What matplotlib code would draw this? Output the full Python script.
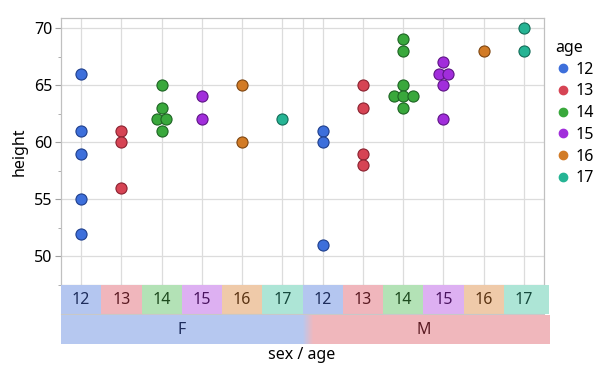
import numpy as np
import matplotlib
matplotlib.use('Agg')
import matplotlib.pyplot as plt
from matplotlib.lines import Line2D
from matplotlib.patches import Rectangle
from matplotlib.colors import to_rgb

# data: heights by sex and age
ages = [12, 13, 14, 15, 16, 17]
sexes = ['F', 'M']
f_heights = [[66, 61, 59, 55, 52], [61, 60, 56], [65, 63, 62, 62, 61], [64, 62], [65, 60], [62]]
m_heights = [[61, 60, 51], [65, 63, 59, 58], [69, 68, 65, 64, 64, 64, 63], [67, 66, 66, 65, 62], [68], [70, 68]]
y_ticks = [50, 55, 60, 65, 70]

# styles
age_colors = ['#3D6FDB', '#D64454', '#39A83C', '#A12DDB', '#D27B26', '#25B494']
age_edges = ['#1F3F8C', '#8A2230', '#1E6424', '#5E1585', '#7E4612', '#136C58']
band_colors = ['#B4C6F0', '#F0B6BC', '#B3E2B6', '#DDB0F2', '#EFCAA9', '#ADE5D6']
band_text = ['#1E2D5C', '#5A1A22', '#1D4A1E', '#4A1460', '#5A3312', '#164A3E']
sex_colors = ['#B6C8F0', '#F0B7BC']
sex_text = ['#1E2D5C', '#5A1A22']
grid_col = '#DCDCDC'
fs = 11.5

plt.rcParams['font.family'] = ['Noto Sans', 'DejaVu Sans']

W, H = 597, 369
fig = plt.figure(figsize=(W / 100, H / 100), dpi=100)

def fr(x0, y0, x1, y1):
    return [x0 / W, 1 - y1 / H, (x1 - x0) / W, (y1 - y0) / H]

ax = fig.add_axes(fr(61, 18, 544, 285))
ncat = len(sexes) * len(ages)
ax.set_xlim(-0.5, ncat - 0.5)
ax.set_ylim(47.55, 70.87)

for xi in range(ncat):
    ax.axvline(xi, color=grid_col, lw=0.9, zorder=0)
for yv in y_ticks:
    ax.axhline(yv, color=grid_col, lw=0.9, zorder=0)
ax.axvline(len(ages) - 0.5, color=grid_col, lw=0.9, zorder=0)

spacing = 0.235
for si, groups in enumerate([f_heights, m_heights]):
    for ai, vals in enumerate(groups):
        xc = si * len(ages) + ai
        xs, ys = [], []
        for v in sorted(set(vals), reverse=True):
            k = vals.count(v)
            offs = (np.arange(k) - (k - 1) / 2) * spacing
            xs += list(xc + offs)
            ys += [v] * k
        ax.scatter(xs, ys, s=64, color=age_colors[ai], edgecolor=age_edges[ai],
                   linewidth=0.8, zorder=3)

ax.set_yticks(y_ticks)
ax.set_yticks(np.arange(47.5, 70.1, 2.5), minor=True)
ax.set_xticks([])
ax.tick_params(axis='y', which='major', length=4, color='#A0A0A0', labelsize=fs, pad=2)
ax.tick_params(axis='y', which='minor', length=2, color='#A0A0A0')
for sp in ax.spines.values():
    sp.set_color('#C0C0C0')
    sp.set_linewidth(0.9)
ax.set_ylabel('height', fontsize=fs, labelpad=5)

# legend
handles = [Line2D([], [], marker='o', ls='', markersize=6, color=c) for c in age_colors]
leg = ax.legend(handles, [str(a) for a in ages], title='age', loc='upper left',
                bbox_to_anchor=(1.0, 0.96), frameon=False, fontsize=fs,
                title_fontsize=fs, handletextpad=0.3, labelspacing=0.36,
                handlelength=1.0, borderaxespad=0.3)
leg._legend_box.align = 'left'

# age band row
bax = fig.add_axes(fr(61, 285, 544, 314))
bax.set_xlim(-0.5, ncat - 0.5)
bax.set_ylim(0, 1)
bax.axis('off')
for si in range(len(sexes)):
    for ai, a in enumerate(ages):
        xc = si * len(ages) + ai
        wext = 0.12 if xc == ncat - 1 else 0
        bax.add_patch(Rectangle((xc - 0.5, 0), 1 + wext, 1, color=band_colors[ai], lw=0, clip_on=False))
        bax.text(xc, 0.5, str(a), ha='center', va='center', fontsize=fs, color=band_text[ai])
bax.plot([-0.5, ncat - 0.5], [0, 0], color='#C8C8C8', lw=0.8, clip_on=False)

# sex band row, with a soft blend where F meets M
sax = fig.add_axes(fr(61, 315, 544, 344))
sax.set_xlim(-0.5, ncat - 0.5)
sax.set_ylim(0, 1)
sax.axis('off')
half = len(ages)
sax.add_patch(Rectangle((-0.5, 0), half, 1, color=sex_colors[0], lw=0, clip_on=False))
sax.add_patch(Rectangle((half - 0.5, 0), half + 0.15, 1, color=sex_colors[1], lw=0, clip_on=False))
c0, c1 = np.array(to_rgb(sex_colors[0])), np.array(to_rgb(sex_colors[1]))
nstep = 30
gw = 0.27 / nstep
for i in range(nstep):
    t = i / (nstep - 1)
    sax.add_patch(Rectangle((half - 0.5 + i * gw, 0), gw * 1.6, 1, color=c0 * (1 - t) + c1 * t,
                            lw=0, zorder=2))
for si, s in enumerate(sexes):
    sax.text(si * half + (half - 1) / 2, 0.5, s, ha='center', va='center', fontsize=fs, color=sex_text[si], zorder=3)

fig.text(302 / W, 1 - 355 / H, 'sex / age', ha='center', va='center', fontsize=fs)

fig.savefig('out.png', dpi=100)
